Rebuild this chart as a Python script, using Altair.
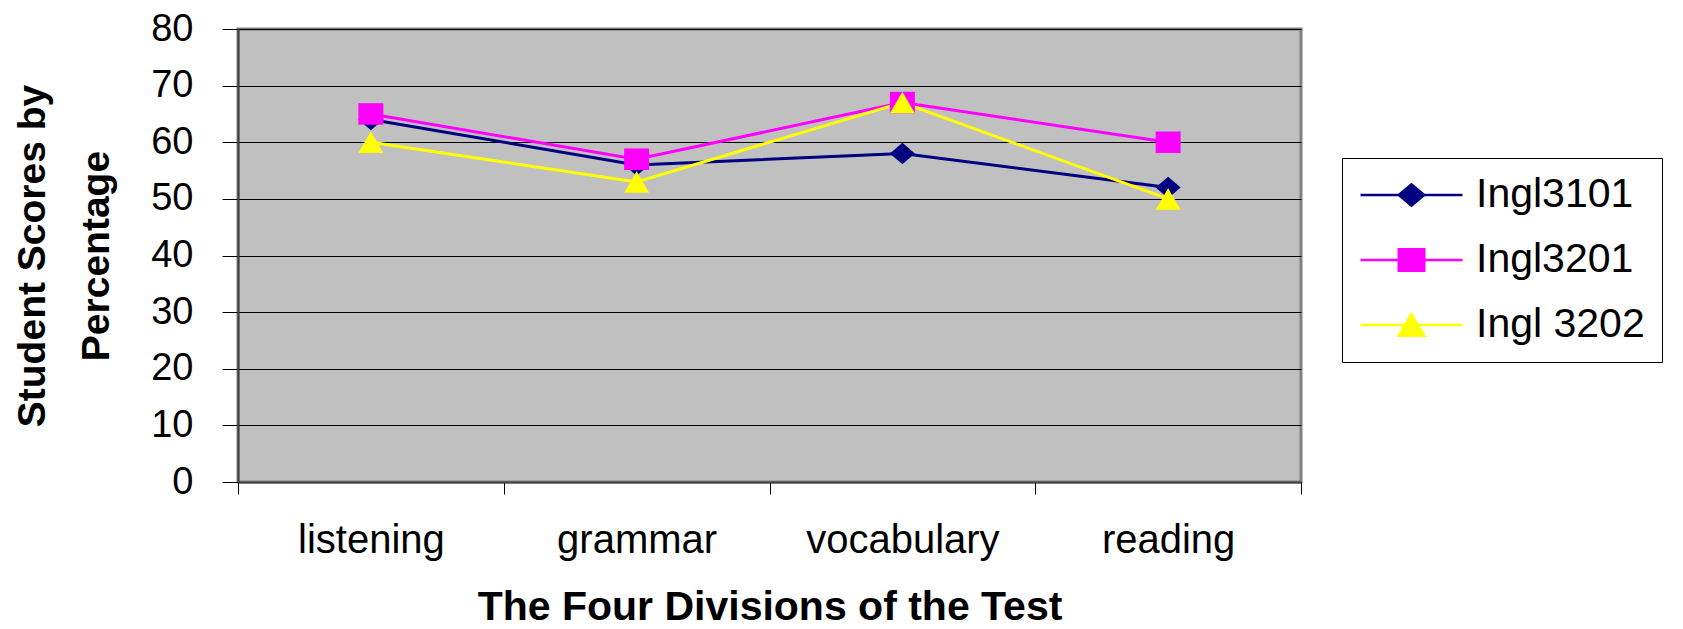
import altair as alt
import pandas as pd

# ---- data ----
categories = ["listening", "grammar", "vocabulary", "reading"]
series_names = ["Ingl3101", "Ingl3201", "Ingl 3202"]
ingl3101 = [64, 56, 58, 52]
ingl3201 = [65, 57, 67, 60]
ingl3202 = [60, 53, 67, 50]
series_colors = ["#000080", "#FF00FF", "#FFFF00"]
y_ticks = [0, 10, 20, 30, 40, 50, 60, 70, 80]

rows = []
for name, vals in zip(series_names, [ingl3101, ingl3201, ingl3202]):
    for cat, v in zip(categories, vals):
        rows.append({"division": cat, "series": name, "score": v})
df = pd.DataFrame(rows)

# marker shapes (unit box -1..1)
marker_paths = [
    "M0,-0.86L1,0L0,0.86L-1,0Z",          # diamond
    "M-1,-0.86H1V0.86H-1Z",               # square
    "M0,-0.86L1,0.86H-1Z",                # triangle
]
# legend shapes: line segment with marker in the middle
legend_paths = [
    "M-1,0H1M-0.25,0L0,-0.21L0.25,0L0,0.21Z",
    "M-1,0H1M-0.25,-0.21H0.25V0.21H-0.25Z",
    "M-1,0H1M0,-0.21L0.25,0.21H-0.25Z",
]

FONT = "Liberation Sans"

x_enc = alt.X(
    "division:N",
    sort=categories,
    scale=alt.Scale(type="band", paddingInner=0, paddingOuter=0),
    axis=alt.Axis(
        title="The Four Divisions of the Test",
        tickBand="extent",
        labelAngle=0,
        tickSize=12,
        labelPadding=26,
        labelFontSize=40,
        labelLimit=400,
        titleFontSize=41,
        titleFontWeight="bold",
        titlePadding=27,
        grid=False,
    ),
)
y_enc = alt.Y(
    "score:Q",
    scale=alt.Scale(domain=[0, 80], nice=False),
    axis=alt.Axis(
        values=y_ticks,
        title=["Student Scores by", "Percentage"],
        titleFontSize=39,
        titleFontWeight="bold",
        titleLineHeight=64,
        titlePadding=34,
        labelFontSize=38,
        tickSize=16,
        labelPadding=29,
        grid=True,
    ),
)

color_scale = alt.Scale(domain=series_names, range=series_colors)

lines = alt.Chart(df).mark_line(strokeWidth=3).encode(
    x=x_enc,
    y=y_enc,
    color=alt.Color("series:N", scale=color_scale, legend=None, sort=series_names),
)

points = alt.Chart(df).mark_point(filled=True, opacity=1, size=625).encode(
    x=x_enc,
    y=y_enc,
    color=alt.Color("series:N", scale=color_scale, legend=None, sort=series_names),
    shape=alt.Shape(
        "series:N",
        scale=alt.Scale(domain=series_names, range=marker_paths),
        legend=None,
    ),
)

leg = alt.Legend(
    title=None,
    orient="none",
    legendX=1104,
    legendY=129,
    clipHeight=40,
    rowPadding=24,
    padding=17,
    strokeColor="#000000",
    symbolSize=10404,
    symbolStrokeWidth=2.5,
    labelFont=FONT,
    labelFontSize=41,
    labelColor="#000000",
    labelOffset=12,
    labelLimit=400,
)

legend_layer = (
    alt.Chart(df)
    .transform_filter("datum.score < 0")
    .mark_point(filled=True, opacity=1, strokeWidth=2.5)
    .encode(
        x=x_enc,
        y=y_enc,
        color=alt.Color("series:N", scale=color_scale, legend=leg),
        stroke=alt.Stroke("series:N", scale=color_scale, legend=leg),
        shape=alt.Shape(
            "series:N",
            scale=alt.Scale(domain=series_names, range=legend_paths),
            legend=leg,
        ),
    )
)

chart = (
    alt.layer(lines, points, legend_layer)
    .resolve_scale(color="independent", shape="independent", stroke="independent")
    .properties(
        width=1063,
        height=453,
        background="white",
        padding={"left": 5, "top": 2, "right": 0, "bottom": 0},
    )
    .configure_view(fill="#C0C0C0", stroke="#808080", strokeWidth=3)
    .configure_axis(
        labelFont=FONT,
        titleFont=FONT,
        labelColor="#000000",
        titleColor="#000000",
        tickColor="#000000",
        tickWidth=1,
        domainColor="#404040",
        domainWidth=2,
        gridColor="#000000",
        gridWidth=1,
    )
)

chart.save("out.html", embed_options={"renderer": "svg", "actions": False})
